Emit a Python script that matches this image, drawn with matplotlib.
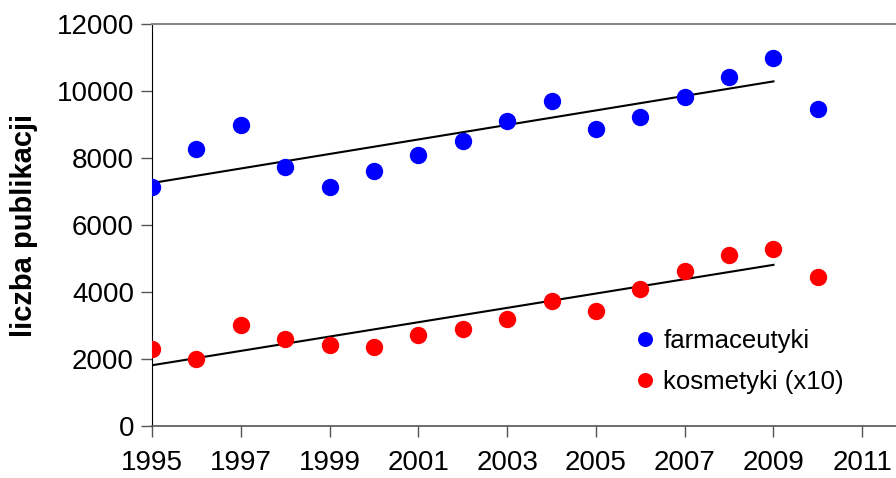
import numpy as np
import matplotlib
matplotlib.use("Agg")
import matplotlib.pyplot as plt

plt.rcParams['font.family'] = ['Liberation Sans', 'DejaVu Sans']

# publication counts per year
years = np.arange(1995, 2011)
farmaceutyki = [7120, 8260, 8980, 7730, 7130, 7610, 8090, 8500, 9100,
                9710, 8860, 9220, 9820, 10420, 11000, 9460]
kosmetyki_x10 = [2290, 1990, 3010, 2590, 2410, 2350, 2710, 2890, 3190,
                 3730, 3430, 4080, 4630, 5100, 5280, 4450]
trend_end = 2009

fig = plt.figure(figsize=(8.96, 4.78), dpi=100)
ax = fig.add_axes([152 / 896, 52 / 478, 1 - 152 / 896, 402 / 478])

ax.plot(years, farmaceutyki, 'o', color='#0000ff', ms=11.5, label='farmaceutyki', zorder=3)
ax.plot(years, kosmetyki_x10, 'o', color='#ff0000', ms=11.5, label='kosmetyki (x10)', zorder=3)

# linear trends over 1995-2009
mask = years <= trend_end
for series in (farmaceutyki, kosmetyki_x10):
    y = np.array(series)
    k, b = np.polyfit(years[mask], y[mask], 1)
    xs = np.array([years[0], trend_end])
    ax.plot(xs, k * xs + b, color='black', lw=1.5, zorder=2)

ax.set_xlim(1995, 2011.76)
ax.set_ylim(0, 12000)
ax.set_xticks(np.arange(1995, 2012, 2))
ax.set_yticks(np.arange(0, 12001, 2000))
ax.tick_params(axis='both', labelsize=20, length=8, width=1, color='#555555')
ax.tick_params(axis='x', pad=9)
ax.tick_params(axis='y', pad=5)

ax.spines['right'].set_visible(False)
ax.spines['top'].set_color('#888888')
ax.spines['top'].set_linewidth(1.5)
ax.spines['left'].set_color('black')
ax.spines['bottom'].set_color('#555555')
ax.spines['bottom'].set_linewidth(1.2)

ax.set_ylabel('liczba publikacji', fontsize=21, fontweight='bold')
ax.yaxis.set_label_coords(-0.153, 0.5)

ax.legend(loc='upper left', bbox_to_anchor=(0.632, 0.266), frameon=False,
          fontsize=18.5, markerscale=0.85, handlelength=1.0, handletextpad=0.2,
          labelspacing=0.65, borderaxespad=0)

fig.savefig('out.png', dpi=100)
